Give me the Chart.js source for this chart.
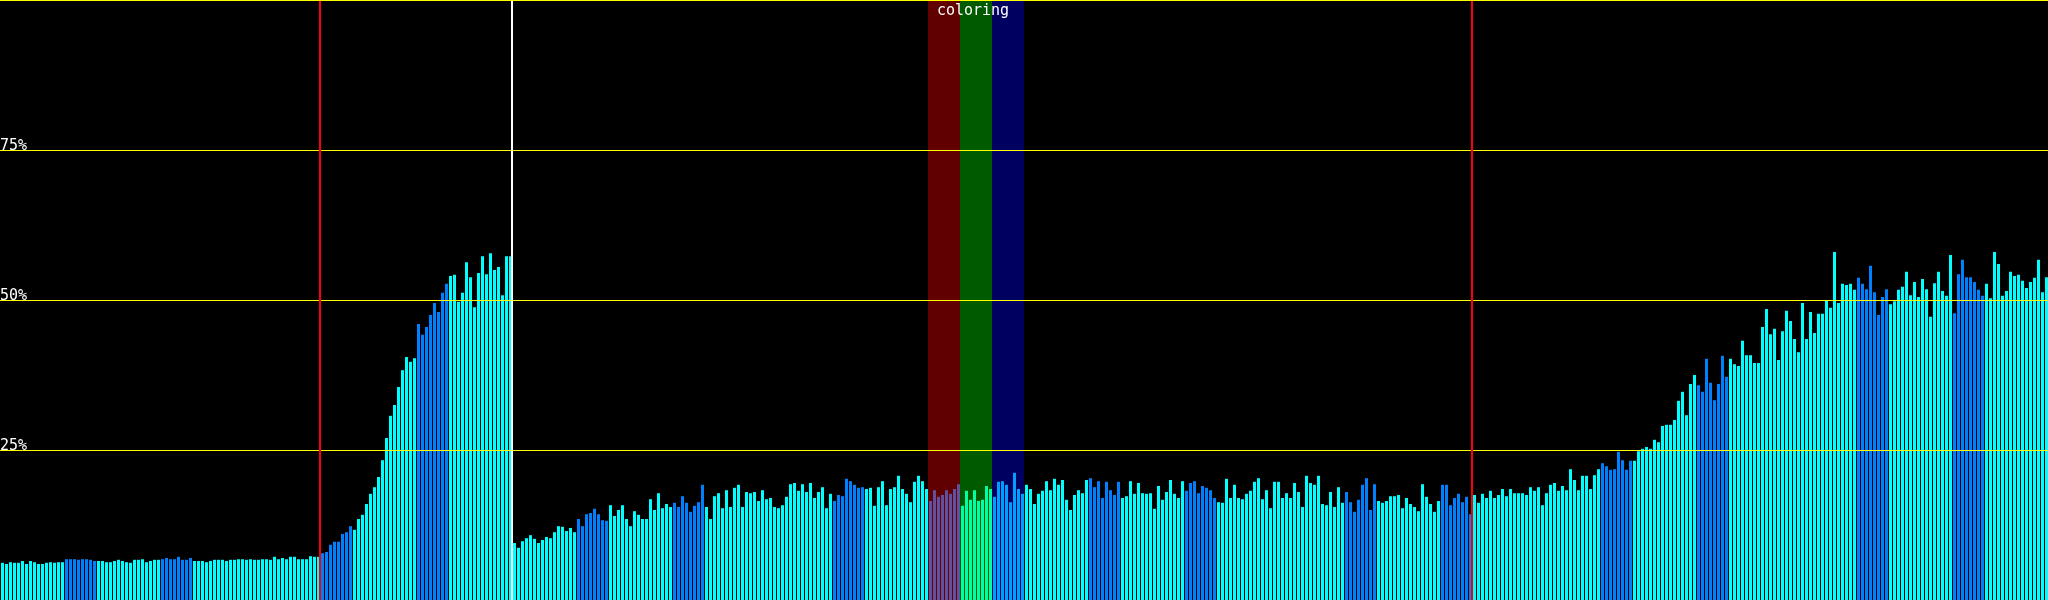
<!DOCTYPE html>
<html><head><meta charset="utf-8">
<script src="https://cdn.jsdelivr.net/npm/chart.js@4/dist/chart.umd.min.js"></script>
<style>html,body{margin:0;padding:0;background:#000;overflow:hidden}canvas{display:block}</style>
</head><body>
<canvas id="c" width="2048" height="600"></canvas>
<script>
// Bar heights in percent (512 bars, left to right)
const values = [
6.2,6.0,6.3,6.2,6.2,6.5,6.0,6.5,6.3,6.0,6.0,6.2,6.3,6.2,6.3,6.3,
6.8,6.8,6.8,6.7,6.8,6.8,6.7,6.5,6.5,6.5,6.3,6.3,6.5,6.7,6.5,6.3,
6.2,6.7,6.7,6.8,6.3,6.5,6.7,6.7,
6.8,7.0,6.8,6.8,7.2,6.7,6.7,7.0,
6.5,6.5,6.5,6.3,6.5,6.7,6.7,6.7,6.5,6.7,6.7,6.8,6.8,6.7,6.8,6.7,
6.7,6.8,6.8,6.7,7.2,6.8,7.0,6.8,7.2,7.2,6.8,6.8,6.8,7.3,7.2,7.2,
7.8,8.0,9.2,9.7,9.7,11.0,11.3,12.3,11.7,13.5,14.2,16.0,17.7,18.8,20.5,23.3,27.0,30.7,32.5,35.5,
38.3,40.5,39.7,40.3,46.0,44.2,45.5,47.5,49.5,48.0,51.2,52.7,54.0,54.2,49.7,51.2,56.3,53.8,48.8,54.5,57.3,54.3,57.8,55.0,55.5,50.8,57.3,57.3,
9.5,8.7,9.8,10.3,10.8,10.2,9.5,10.0,10.5,10.3,
11.3,12.3,12.2,11.5,12.0,11.3,13.5,12.3,14.3,14.5,15.2,14.3,13.3,13.2,
15.8,14.0,15.0,15.8,13.5,12.3,14.8,14.2,13.5,13.5,16.8,15.0,17.8,15.3,16.0,15.5,
16.2,15.5,17.3,16.2,14.7,15.7,16.3,19.2,15.5,13.5,17.3,17.8,15.3,18.3,15.5,18.7,
19.2,15.5,18.0,17.8,18.0,16.5,18.3,16.8,17.0,15.5,15.3,15.8,17.2,19.3,19.5,18.2,
19.3,18.0,19.5,17.0,18.0,18.8,15.3,17.7,16.5,17.5,17.3,20.2,19.8,19.2,18.7,18.8,18.5,18.7,15.7,18.8,
19.8,15.8,18.5,18.8,20.7,18.5,17.7,16.3,19.7,20.7,19.8,18.5,16.5,18.3,17.2,17.5,18.3,17.7,18.5,19.3,
15.7,18.2,16.7,18.3,16.5,16.7,19.0,18.5,17.2,19.7,19.8,19.2,16.3,21.2,18.5,17.7,
19.2,18.5,16.0,17.7,18.2,19.8,18.3,20.2,19.2,20.0,16.7,15.0,17.5,18.3,17.8,20.0,
20.3,18.8,19.8,17.0,19.7,18.3,17.5,19.7,17.0,17.3,19.8,17.7,19.5,17.8,17.7,17.8,
15.2,19.0,16.7,18.0,20.0,17.7,17.0,19.8,18.2,19.5,19.8,17.8,19.0,18.7,18.3,17.0,
16.3,16.2,20.2,17.0,19.2,17.0,16.8,17.7,18.2,19.7,20.3,16.8,18.3,15.3,19.7,19.7,
17.0,17.8,17.0,19.5,18.0,15.5,20.7,19.5,19.2,20.7,16.0,15.8,18.0,15.5,18.8,16.2,
18.0,16.3,14.7,16.7,19.2,20.3,15.0,19.3,16.5,16.2,16.5,17.3,17.3,17.5,15.3,17.0,
16.0,15.5,14.8,19.3,17.2,16.0,14.7,16.5,19.2,19.2,15.8,17.0,17.7,16.3,17.2,14.3,
17.5,16.2,17.7,17.0,18.2,17.0,17.5,18.5,17.3,18.5,17.8,17.8,17.8,17.5,18.8,18.2,
18.8,15.8,17.8,19.2,19.5,18.2,19.0,18.3,21.8,20.0,18.3,20.7,20.7,18.5,20.8,21.8,
22.8,22.3,21.7,21.8,24.7,23.3,21.7,23.2,23.2,24.8,25.2,25.5,
25.2,26.7,26.3,29.0,29.2,29.2,30.0,33.2,34.7,30.8,36.0,37.5,35.8,34.7,40.2,36.2,33.3,36.0,40.7,37.2,
40.2,39.3,39.0,43.2,40.8,40.8,39.5,39.5,45.5,48.5,44.3,45.2,40.0,44.8,48.2,46.5,43.5,41.3,49.5,43.5,48.0,
44.5,47.7,47.7,50.0,48.7,58.0,49.5,52.7,52.5,52.7,51.7,53.7,52.7,51.8,55.7,51.3,47.5,50.5,51.8,
49.3,49.8,51.7,52.2,54.7,50.8,53.0,50.5,53.5,51.8,47.2,52.8,54.7,51.5,50.7,57.5,
47.8,54.3,56.7,53.8,53.8,53.0,51.7,50.7,52.7,50.3,58.0,56.0,50.7,51.5,54.7,54.0,54.2,53.2,52.0,53.0,53.7,56.7,51.3,53.8
];
const categories = values.map((v, i) => i);
const gridLevels = [25, 50, 75, 100];
const tickLabels = ['25%', '50%', '75%'];
const tickLevels = [25, 50, 75];
const redMarkers = [80, 368];
const whiteMarkers = [128];
const blueGroups = [[16,23],[40,47],[80,87],[104,111],[144,151],[168,175],[208,215],[232,239],[272,279],[296,303],[336,343],[360,367],[400,407],[424,431],[464,471],[488,495]];
const bandStarts = [232, 240, 248];
const bandEnds = [240, 248, 256];
const bandColors = ['rgba(255,0,0,0.375)', 'rgba(0,255,0,0.355)', 'rgba(0,0,255,0.375)'];
const bandLabel = 'coloring';

const CYAN = '#00FFFF', BLUE = '#0080FF';
const isBlue = i => blueGroups.some(g => i >= g[0] && i <= g[1]);

const overlay = {
  id: 'overlay',
  afterDatasetsDraw(chart) {
    const ctx = chart.ctx, xs = chart.scales.x, ys = chart.scales.y, a = chart.chartArea;
    const edge = k => Math.floor(xs.getPixelForValue(k - 0.5));
    ctx.save();
    // coloring bands
    bandStarts.forEach((s, j) => {
      ctx.fillStyle = bandColors[j];
      ctx.fillRect(edge(s), a.top, edge(bandEnds[j]) - edge(s), a.bottom - a.top);
    });
    // yellow grid lines
    ctx.strokeStyle = '#FFFF00';
    ctx.lineWidth = 1;
    gridLevels.forEach(l => {
      const py = Math.floor(ys.getPixelForValue(l)) + 0.5;
      ctx.beginPath(); ctx.moveTo(a.left, py); ctx.lineTo(a.right, py); ctx.stroke();
    });
    // vertical markers
    ctx.lineWidth = 2;
    const vline = (k, color) => {
      const px = edge(k);
      ctx.strokeStyle = color;
      ctx.beginPath(); ctx.moveTo(px, a.top + 1); ctx.lineTo(px, a.bottom); ctx.stroke();
    };
    redMarkers.forEach(k => vline(k, '#FF0000'));
    whiteMarkers.forEach(k => vline(k, '#FFFFFF'));
    // tick labels
    ctx.fillStyle = '#FFFFFF';
    ctx.font = '15px "DejaVu Sans Mono", monospace';
    ctx.textAlign = 'left';
    ctx.textBaseline = 'alphabetic';
    tickLevels.forEach((l, j) => {
      const py = Math.floor(ys.getPixelForValue(l));
      ctx.fillText(tickLabels[j], a.left, py);
    });
    // band label
    ctx.textAlign = 'center';
    const cx = (edge(bandStarts[0]) + edge(bandEnds[bandEnds.length - 1])) / 2 - 3;
    ctx.fillText(bandLabel, cx, a.top + 15);
    ctx.restore();
  }
};

new Chart(document.getElementById('c'), {
  type: 'bar',
  data: {
    datasets: [{
      data: categories.map(i => ({ x: i, y: values[i] })),
      backgroundColor: categories.map(i => isBlue(i) ? BLUE : CYAN),
      borderWidth: 0,
      barPercentage: 0.75,
      categoryPercentage: 1,
      inflateAmount: 0
    }]
  },
  options: {
    responsive: false,
    animation: false,
    devicePixelRatio: 1,
    layout: { padding: 0 },
    plugins: { legend: { display: false }, tooltip: { enabled: false } },
    scales: {
      x: { type: 'linear', min: -0.625, max: 511.375, offset: false, display: false },
      y: { min: 0, max: 100, display: false }
    }
  },
  plugins: [overlay]
});
</script>
</body></html>
